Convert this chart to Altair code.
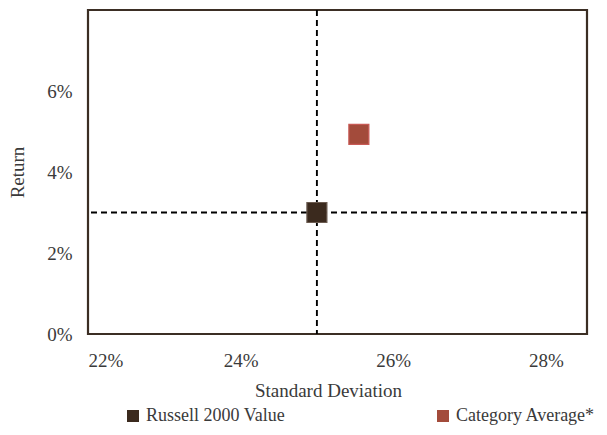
import altair as alt
import pandas as pd

series = ["Russell 2000 Value", "Category Average*"]
std_dev = [25.0, 25.55]
returns = [3.0, 4.93]
colors = ["#3B2A1E", "#A34B3B"]
ref_x = [25.0]
ref_y = [3.0]

df = pd.DataFrame({"series": series, "std": std_dev, "ret": returns})
vx = pd.DataFrame({"x": ref_x})
hy = pd.DataFrame({"y": ref_y})

FONT = "Liberation Serif"
TXT = "#3a3a3a"

xscale = alt.Scale(domain=[22, 28.54], nice=False, zero=False)
yscale = alt.Scale(domain=[0, 8], nice=False)

xaxis = alt.Axis(values=[22, 24, 26, 28], labelExpr="datum.value + '%'", title="Standard Deviation",
                 grid=False, ticks=False, domain=False, labelPadding=17, titlePadding=11, titleX=240)
yaxis = alt.Axis(values=[0, 2, 4, 6], labelExpr="datum.value + '%'", title="Return",
                 grid=False, ticks=False, domain=False, labelPadding=16, titlePadding=19)

vline = alt.Chart(vx).mark_rule(color="black", strokeDash=[6, 4], strokeWidth=1.9).encode(
    x=alt.X("x:Q", scale=xscale, axis=xaxis)
)
hline = alt.Chart(hy).mark_rule(color="black", strokeDash=[6, 4], strokeWidth=1.9).encode(
    y=alt.Y("y:Q", scale=yscale, axis=yaxis)
)
points = alt.Chart(df).mark_square(size=400, opacity=1, strokeWidth=1.2).encode(
    x=alt.X("std:Q", scale=xscale, axis=xaxis),
    y=alt.Y("ret:Q", scale=yscale, axis=yaxis),
    color=alt.Color("series:N", scale=alt.Scale(domain=series, range=colors),
                    legend=alt.Legend(title=None, orient="none", direction="horizontal",
                                      legendX=36, legendY=397, symbolType="square",
                                      symbolSize=144, symbolStrokeWidth=0, labelOffset=4,
                                      columnPadding=149, labelFontSize=18, labelFont=FONT,
                                      labelColor=TXT, labelLimit=300)),
    stroke=alt.Stroke("series:N", scale=alt.Scale(domain=series, range=["#6b5b50", "#C85A55"]), legend=None),
)

chart = alt.layer(vline, hline, points).properties(
    width=499, height=324,
    autosize=alt.AutoSizeParams(type="none"),
    padding={"left": 80, "top": 2, "right": 12, "bottom": 93},
).configure_view(
    stroke="#3B2E24", strokeWidth=2.2
).configure_axis(
    labelFont=FONT, titleFont=FONT, labelFontSize=19, titleFontSize=19,
    labelColor=TXT, titleColor=TXT, titleFontWeight="normal"
)

chart.save("out.html", embed_options={"renderer": "svg", "actions": False})
